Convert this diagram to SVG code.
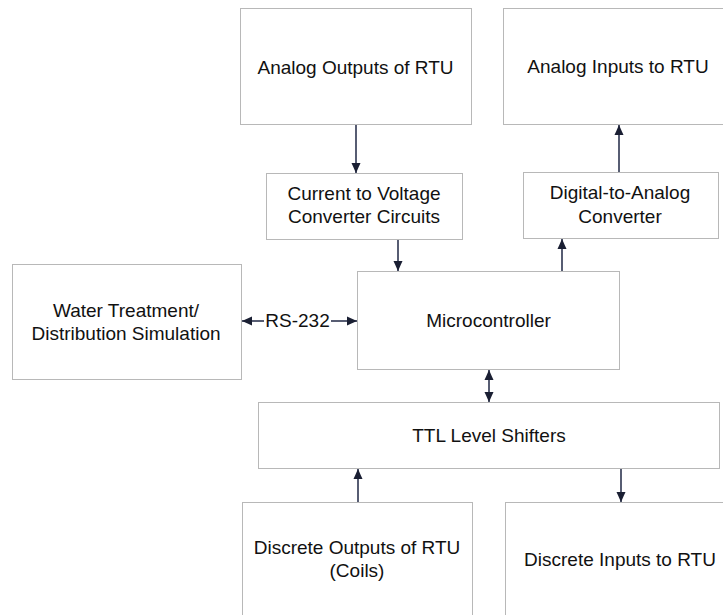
<svg xmlns="http://www.w3.org/2000/svg" width="723" height="615" viewBox="0 0 723 615">
<defs>
<marker id="ah" viewBox="0 0 10 10" refX="10" refY="5" markerWidth="10" markerHeight="10" markerUnits="userSpaceOnUse" orient="auto-start-reverse">
<path d="M0,0.5 L10,5 L0,9.5 Z" fill="#1a1f33"/>
</marker>
</defs>
<style>
.box{fill:#fff;stroke:#b8b8b8;stroke-width:1}
.t{font-family:"Liberation Sans",Arial,sans-serif;font-size:19px;fill:#111;text-anchor:middle}
.c{stroke:#1f2744;stroke-width:1.5;fill:none}
</style>
<rect width="723" height="615" fill="#fff"/>
<g id="n-analog-out"><rect class="box" x="240.5" y="8.5" width="231" height="116"/><text class="t" x="355.5" y="74">Analog Outputs of RTU</text></g>
<g id="n-analog-in"><rect class="box" x="503.5" y="8.5" width="230" height="116"/><text class="t" x="618" y="73">Analog Inputs to RTU</text></g>
<g id="n-i2v"><rect class="box" x="266.5" y="173.5" width="196" height="66"/><text class="t" x="364" y="200">Current to Voltage</text><text class="t" x="364" y="223">Converter Circuits</text></g>
<g id="n-dac"><rect class="box" x="523.5" y="172.5" width="195" height="66"/><text class="t" x="620" y="199">Digital-to-Analog</text><text class="t" x="620" y="223">Converter</text></g>
<g id="n-water"><rect class="box" x="12.5" y="264.5" width="229" height="115"/><text class="t" x="126" y="317">Water Treatment/</text><text class="t" x="126" y="340">Distribution Simulation</text></g>
<g id="n-micro"><rect class="box" x="357.5" y="271.5" width="262" height="98"/><text class="t" x="488.5" y="327">Microcontroller</text></g>
<g id="n-ttl"><rect class="box" x="258.5" y="402.5" width="461" height="66"/><text class="t" x="489" y="442">TTL Level Shifters</text></g>
<g id="n-disc-out"><rect class="box" x="242.5" y="502.5" width="230" height="118"/><text class="t" x="357" y="554">Discrete Outputs of RTU</text><text class="t" x="357" y="577">(Coils)</text></g>
<g id="n-disc-in"><rect class="box" x="505.5" y="502.5" width="230" height="118"/><text class="t" x="620" y="566">Discrete Inputs to RTU</text></g>
<g id="connectors">
<line class="c" x1="356" y1="125" x2="356" y2="173" marker-end="url(#ah)"/>
<line class="c" x1="619" y1="172" x2="619" y2="125" marker-end="url(#ah)"/>
<line class="c" x1="398" y1="240" x2="398" y2="271" marker-end="url(#ah)"/>
<line class="c" x1="562" y1="271" x2="562" y2="239" marker-end="url(#ah)"/>
<line class="c" x1="489" y1="370" x2="489" y2="402" marker-start="url(#ah)" marker-end="url(#ah)"/>
<line class="c" x1="358" y1="502" x2="358" y2="469" marker-end="url(#ah)"/>
<line class="c" x1="621" y1="469" x2="621" y2="502" marker-end="url(#ah)"/>
<line class="c" x1="264" y1="321" x2="242" y2="321" marker-end="url(#ah)"/>
<line class="c" x1="331" y1="321" x2="357" y2="321" marker-end="url(#ah)"/>
<text class="t" x="297.5" y="327">RS-232</text>
</g>
</svg>
